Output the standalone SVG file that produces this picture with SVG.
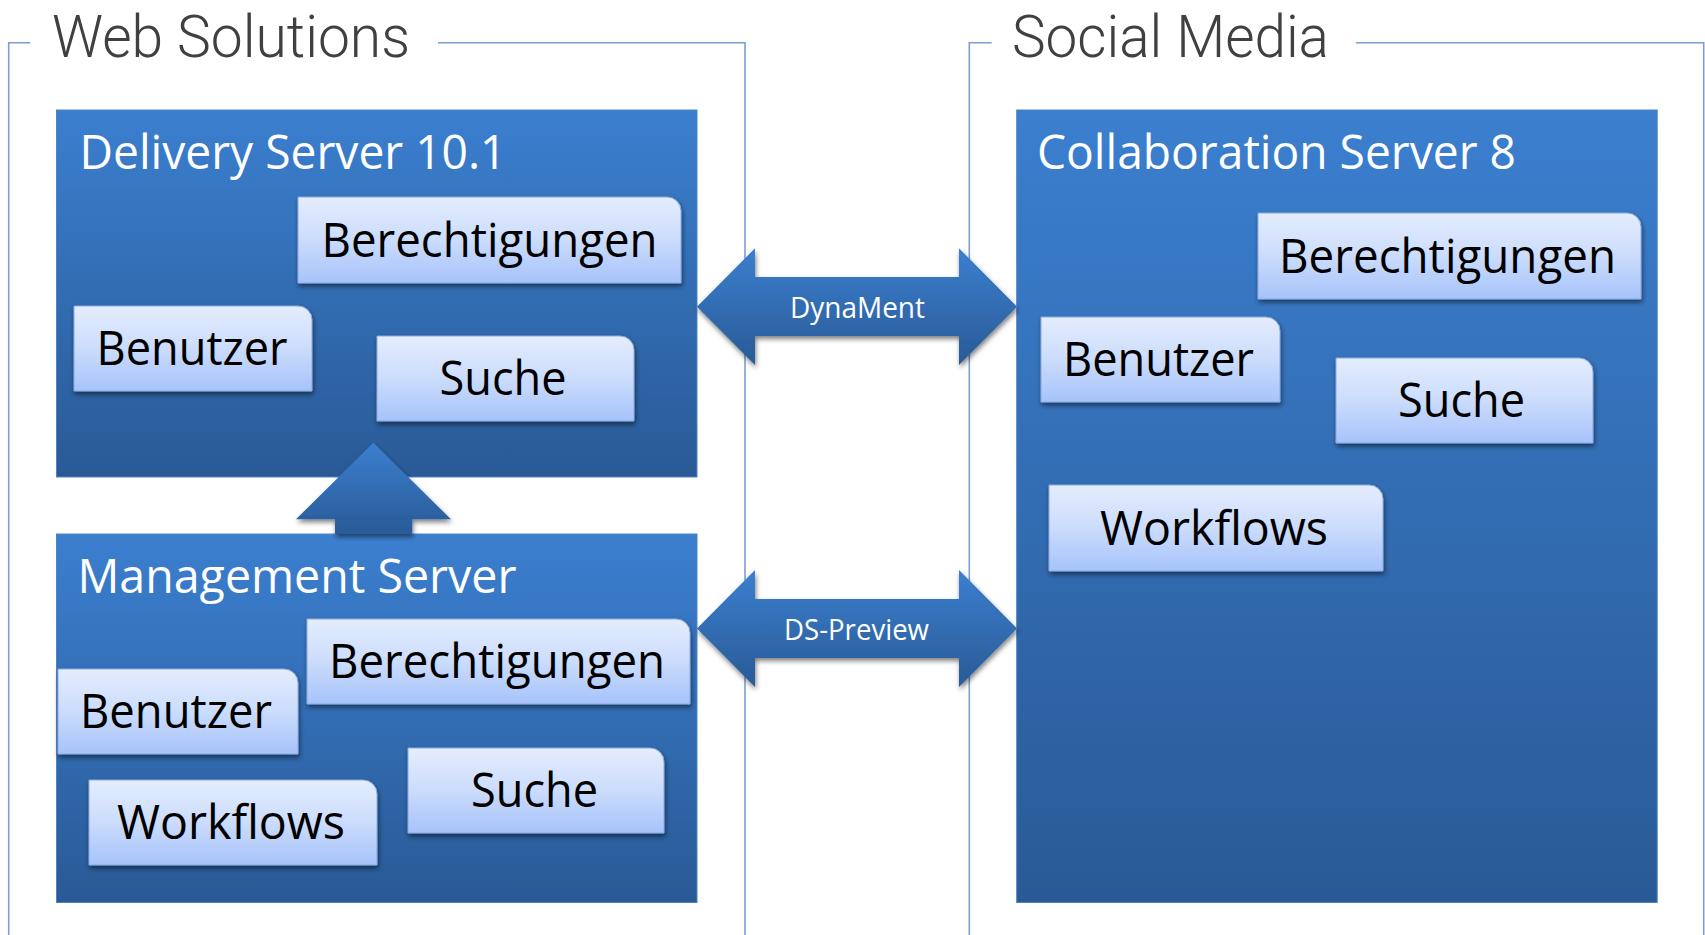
<svg xmlns="http://www.w3.org/2000/svg" width="1705" height="935" viewBox="0 0 1705 935">
<defs>
<linearGradient id="blueGrad" x1="0" y1="0" x2="0" y2="1">
<stop offset="0" stop-color="#3b7fcf"/>
<stop offset="1" stop-color="#295a96"/>
</linearGradient>
<linearGradient id="innerGrad" x1="0" y1="0" x2="0" y2="1">
<stop offset="0" stop-color="#e4edfd"/>
<stop offset="0.5" stop-color="#cbdcfc"/>
<stop offset="1" stop-color="#a6c3fa"/>
</linearGradient>
<filter id="shadow" x="-10%" y="-10%" width="125%" height="135%">
<feDropShadow dx="1" dy="3" stdDeviation="2.5" flood-color="#000" flood-opacity="0.5"/>
</filter>
</defs>
<style>
.frame{fill:none;stroke:#7c9fd0;stroke-width:1.6}
.title{font-family:Roboto,"Open Sans","Liberation Sans",sans-serif;font-weight:300;font-size:60px;fill:#404040}
.box{fill:url(#blueGrad);stroke:#4f83c6;stroke-width:1}
.boxtitle{font-family:"Open Sans","Liberation Sans",sans-serif;font-size:48px;fill:#ffffff}
.inner{fill:url(#innerGrad);stroke:#8aaae0;stroke-width:1;filter:url(#shadow)}
.itext{font-family:"Open Sans","Liberation Sans",sans-serif;font-size:47px;fill:#000000;text-anchor:middle}
.arrow{fill:url(#blueGrad);filter:url(#shadow)}
.alabel{font-family:"Open Sans","Liberation Sans",sans-serif;font-size:29px;fill:#ffffff;text-anchor:middle}
</style>

<g id="frame-web">
<path class="frame" d="M8.7,935 V42.7 H30.4 M438,42.7 H745 V935"/>
<text class="title" x="52" y="57" textLength="358" lengthAdjust="spacingAndGlyphs">Web Solutions</text>
</g>
<g id="frame-social">
<path class="frame" d="M969.3,935 V42.7 H991.7 M1356,42.7 H1703.7 V935"/>
<text class="title" x="1012" y="57" textLength="317" lengthAdjust="spacingAndGlyphs">Social Media</text>
</g>

<g id="delivery-server">
<rect class="box" x="56.5" y="110" width="640.5" height="367"/>
<text class="boxtitle" x="79.5" y="169" textLength="427" lengthAdjust="spacingAndGlyphs">Delivery Server 10.1</text>
<g id="ds-berechtigungen">
<path class="inner" d="M298,197 H667 A14,14 0 0 1 681,211 V283 H298 Z"/>
<text class="itext" x="489.5" y="257" textLength="336" lengthAdjust="spacingAndGlyphs">Berechtigungen</text>
</g>
<g id="ds-benutzer">
<path class="inner" d="M74,306 H298 A14,14 0 0 1 312,320 V391 H74 Z"/>
<text class="itext" x="192" y="365" textLength="191" lengthAdjust="spacingAndGlyphs">Benutzer</text>
</g>
<g id="ds-suche">
<path class="inner" d="M377,336 H620 A14,14 0 0 1 634,350 V421 H377 Z"/>
<text class="itext" x="503" y="395" textLength="127" lengthAdjust="spacingAndGlyphs">Suche</text>
</g>
</g>

<g id="management-server">
<rect class="box" x="56.5" y="534" width="640.5" height="368.5"/>
<text class="boxtitle" x="77.5" y="593" textLength="439" lengthAdjust="spacingAndGlyphs">Management Server</text>
<g id="ms-berechtigungen">
<path class="inner" d="M307,619 H676 A14,14 0 0 1 690,633 V704 H307 Z"/>
<text class="itext" x="497" y="678" textLength="336" lengthAdjust="spacingAndGlyphs">Berechtigungen</text>
</g>
<g id="ms-benutzer">
<path class="inner" d="M58,669 H284 A14,14 0 0 1 298,683 V754 H58 Z"/>
<text class="itext" x="176" y="728" textLength="192" lengthAdjust="spacingAndGlyphs">Benutzer</text>
</g>
<g id="ms-workflows">
<path class="inner" d="M89,780 H363 A14,14 0 0 1 377,794 V865 H89 Z"/>
<text class="itext" x="231" y="839" textLength="228" lengthAdjust="spacingAndGlyphs">Workflows</text>
</g>
<g id="ms-suche">
<path class="inner" d="M408,748 H650 A14,14 0 0 1 664,762 V833 H408 Z"/>
<text class="itext" x="534.5" y="807" textLength="127" lengthAdjust="spacingAndGlyphs">Suche</text>
</g>
</g>

<g id="collaboration-server">
<rect class="box" x="1016.7" y="110" width="640.5" height="792.5"/>
<text class="boxtitle" x="1037" y="169" textLength="479" lengthAdjust="spacingAndGlyphs">Collaboration Server 8</text>
<g id="cs-berechtigungen">
<path class="inner" d="M1258,213 H1627 A14,14 0 0 1 1641,227 V299 H1258 Z"/>
<text class="itext" x="1447.5" y="272.5" textLength="337" lengthAdjust="spacingAndGlyphs">Berechtigungen</text>
</g>
<g id="cs-benutzer">
<path class="inner" d="M1041,317 H1266 A14,14 0 0 1 1280,331 V402 H1041 Z"/>
<text class="itext" x="1158.5" y="376" textLength="191" lengthAdjust="spacingAndGlyphs">Benutzer</text>
</g>
<g id="cs-suche">
<path class="inner" d="M1336,358 H1579 A14,14 0 0 1 1593,372 V443 H1336 Z"/>
<text class="itext" x="1461.5" y="417" textLength="127" lengthAdjust="spacingAndGlyphs">Suche</text>
</g>
<g id="cs-workflows">
<path class="inner" d="M1049,485 H1369 A14,14 0 0 1 1383,499 V571 H1049 Z"/>
<text class="itext" x="1214" y="545" textLength="228" lengthAdjust="spacingAndGlyphs">Workflows</text>
</g>
</g>

<g id="connectors">
<g id="arrow-up">
<polygon class="arrow" points="373.3,442.7 451,519.3 412.3,519.3 412.3,534 335,534 335,519.3 296,519.3"/>
</g>
<g id="arrow-dynament">
<polygon class="arrow" points="697,306.7 755,248.3 755,277 959,277 959,248.3 1017,306.7 959,365 959,336 755,336 755,365"/>
<text class="alabel" x="857.5" y="318" textLength="135" lengthAdjust="spacingAndGlyphs">DynaMent</text>
</g>
<g id="arrow-dspreview">
<polygon class="arrow" points="697,628.5 755,570 755,599 959,599 959,570 1017,628.5 959,687 959,658 755,658 755,687"/>
<text class="alabel" x="856.5" y="640" textLength="145" lengthAdjust="spacingAndGlyphs">DS-Preview</text>
</g>
</g>
</svg>
